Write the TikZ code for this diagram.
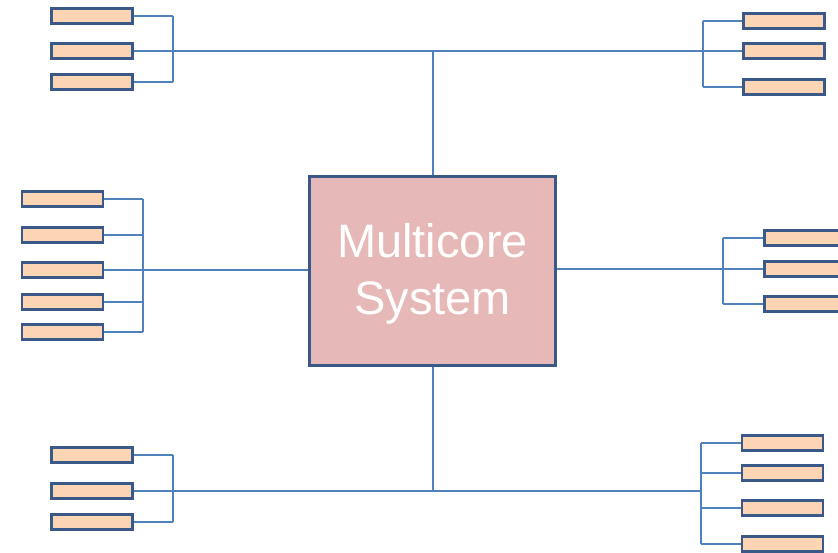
\documentclass[tikz,border=0pt]{standalone}
\usepackage{fontspec}
\setmainfont{Liberation Sans}
\usetikzlibrary{calc}
\definecolor{sysfill}{RGB}{230,184,183}
\definecolor{boxfill}{RGB}{252,213,180}
\definecolor{edgecolor}{RGB}{59,89,136}
\definecolor{linkcolor}{RGB}{79,129,189}

\begin{document}
\begin{tikzpicture}[x=1pt,y=-1pt,
  unit/.style={draw=edgecolor,line width=2.4pt,fill=boxfill,minimum width=81pt,minimum height=15pt,inner sep=0pt},
  link/.style={linkcolor,line width=2pt}]

\useasboundingbox (0,0) rectangle (838,553);
\clip (0,0) rectangle (838,553);

\node[draw=edgecolor,line width=3.4pt,fill=sysfill,minimum width=246pt,minimum height=189pt,
  inner sep=0pt,align=center,text=white,font=\fontsize{47}{57}\selectfont] (sys) at (432.5,271) {};
\node[text=white,align=center,font=\fontsize{47}{57}\selectfont] (label) at (432.5,274) {Multicore\\System};

% spines of the brackets
\coordinate (tl) at (173,51);
\coordinate (tr) at (703,51);
\coordinate (ml) at (143,270);
\coordinate (mr) at (723,269);
\coordinate (bl) at (173,491);
\coordinate (br) at (701,491);

\begin{scope}[every node/.style={unit}]
\node (tl1) at (92,16) {};
\node (tl2) at (92,51) {};
\node (tl3) at (92,82) {};
\node (tr1) at (784,21) {};
\node (tr2) at (784,51) {};
\node (tr3) at (784,87) {};
\node (ml1) at (62.5,199) {};
\node (ml2) at (62.5,235) {};
\node (ml3) at (62.5,270) {};
\node (ml4) at (62.5,302) {};
\node (ml5) at (62.5,332) {};
\node (mr1) at (805,238) {};
\node (mr2) at (805,269) {};
\node (mr3) at (805,304) {};
\node (bl1) at (92,455) {};
\node (bl2) at (92,491) {};
\node (bl3) at (92,522) {};
\node (br1) at (782.5,443) {};
\node (br2) at (782.5,473) {};
\node (br3) at (782.5,508) {};
\node (br4) at (782.5,544) {};
\end{scope}

% stubs
\foreach \n in {tl1,tl2,tl3} \draw[link] (\n.east) -- (\n.east -| tl);
\foreach \n in {bl1,bl2,bl3} \draw[link] (\n.east) -- (\n.east -| bl);
\foreach \n in {ml1,ml2,ml3,ml4,ml5} \draw[link] (\n.east) -- (\n.east -| ml);
\foreach \n in {tr1,tr2,tr3} \draw[link] (\n.west) -- (\n.west -| tr);
\foreach \n in {mr1,mr2,mr3} \draw[link] (\n.west) -- (\n.west -| mr);
\foreach \n in {br1,br2,br3,br4} \draw[link] (\n.west) -- (\n.west -| br);

% bracket spines
\draw[link] (tl1.east -| tl) -- (tl3.east -| tl);
\draw[link] (bl1.east -| bl) -- (bl3.east -| bl);
\draw[link] (ml1.east -| ml) -- (ml5.east -| ml);
\draw[link] (tr1.west -| tr) -- (tr3.west -| tr);
\draw[link] (mr1.west -| mr) -- (mr3.west -| mr);
\draw[link] (br1.west -| br) -- (br4.west -| br);

% buses to the system
\draw[link] (tl) -- (tr);
\draw[link] (bl) -- (br);
\draw[link] (sys.north) -- (sys.north |- tl);
\draw[link] (sys.south) -- (sys.south |- bl);
\draw[link] (ml) -- (ml -| sys.west);
\draw[link] (mr) -- (mr -| sys.east);

\end{tikzpicture}
\end{document}
